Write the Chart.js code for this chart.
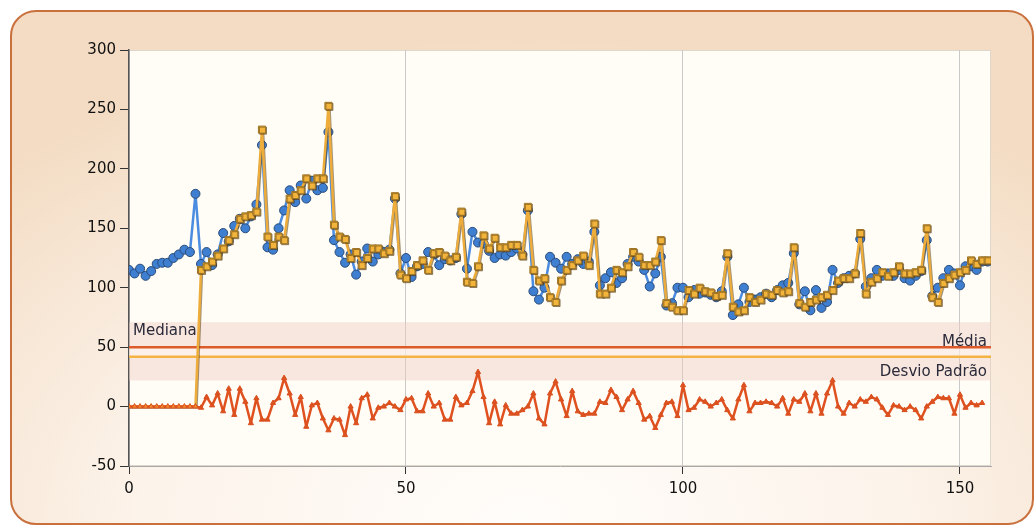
<!DOCTYPE html>
<html>
<head>
<meta charset="utf-8">
<script src="https://cdn.jsdelivr.net/npm/chart.js@4.4.1/dist/chart.umd.min.js"></script>
<style>
  html, body { margin: 0; padding: 0; background: #fff; }
  #wrap { position: relative; width: 1036px; height: 531px; overflow: hidden; }
  #frame {
    position: absolute; left: 10px; top: 10px; width: 1024px; height: 515px;
    box-sizing: border-box;
    border: 2px solid #c9703c; border-radius: 26px;
    background: radial-gradient(ellipse 75% 95% at 50% 100%, #fffdfa 0%, #fcf3ea 50%, #f3dcc3 100%);
  }
  #chart { position: absolute; left: 0; top: 0; }
</style>
</head>
<body>
<div id="wrap">
  <div id="frame"></div>
  <canvas id="chart" width="1036" height="531"></canvas>
</div>
<script>
// série observada (círculos azuis)
const observado = [
  115, 112, 116, 110, 114, 120, 121, 121, 125, 128, 132, 130, 179, 120, 130, 119,
  128, 146, 139, 152, 158, 150, 160, 170, 220, 134, 132, 150, 165, 182, 172, 186,
  175, 190, 182, 184, 231, 140, 130, 121, 128, 111, 122, 133, 122, 128, 130, 132,
  175, 112, 125, 109, 118, 120, 130, 128, 119, 124, 123, 125, 162, 116, 147, 138,
  137, 131, 125, 128, 127, 130, 133, 128, 165, 97, 90, 100, 126, 121, 116, 126,
  120, 124, 120, 122, 147, 102, 108, 113, 104, 108, 120, 126, 122, 115, 101, 112,
  126, 85, 87, 100, 100, 92, 98, 95, 96, 94, 92, 97, 126, 77, 86, 100,
  88, 90, 92, 95, 92, 98, 102, 104, 129, 86, 97, 81, 98, 83, 88, 115,
  104, 108, 110, 112, 141, 101, 108, 115, 110, 112, 110, 115, 108, 106, 110, 114,
  140, 93, 100, 108, 115, 112, 102, 118, 118, 115, 122, 122
];

// série prevista (quadrados laranja), zero antes do início da previsão
const previsto = [
  0, 0, 0, 0, 0, 0, 0, 0, 0, 0, 0, 0, 0, 115, 118, 122,
  127, 133, 140, 145, 158, 160, 161, 164, 233, 143, 136, 143, 140, 175, 178, 182,
  192, 186, 192, 192, 253, 153, 143, 141, 125, 130, 119, 125, 133, 133, 129, 131,
  177, 111, 108, 114, 119, 123, 115, 129, 130, 127, 123, 126, 164, 105, 104, 118,
  144, 133, 142, 134, 134, 136, 136, 127, 168, 115, 106, 108, 92, 88, 106, 115,
  119, 123, 127, 119, 154, 95, 95, 100, 115, 113, 118, 130, 126, 119, 119, 122,
  140, 87, 84, 81, 81, 98, 95, 100, 97, 96, 93, 94, 129, 84, 80, 81,
  92, 88, 90, 95, 94, 98, 96, 97, 134, 87, 84, 88, 90, 92, 94, 98,
  106, 108, 108, 112, 146, 95, 105, 108, 113, 110, 113, 118, 112, 112, 113, 115,
  150, 92, 88, 104, 108, 111, 113, 115, 123, 120, 123, 123
];

// resíduos (linha vermelha com triângulos)
const residuo = [
  0, 0, 0, 0, 0, 0, 0, 0, 0, 0, 0, 0, 0, -1, 8, 1,
  11, -4, 15, -7, 15, 4, -14, 7, -11, -11, 3, 7, 24, 11, -7, 8,
  -17, 1, 3, -10, -20, -10, -11, -24, 0, -14, 7, 10, -10, -1, 0, 3,
  0, -3, 6, 7, -4, -4, 11, 0, 3, -11, -11, 8, 1, 3, 13, 29,
  8, -14, 4, -15, 1, -6, -6, -3, 0, 11, -10, -15, 11, 21, 6, -8,
  13, -4, -7, -6, -6, 4, 3, 14, 8, -3, 6, 13, 3, -11, -8, -18,
  -7, 3, 4, -8, 18, -3, -1, 6, 4, 0, 3, 6, -3, -10, 6, 18,
  -4, 3, 3, 4, 3, 0, 7, -6, 6, 4, 11, -4, 11, -6, 11, 22,
  0, -6, 3, 0, 6, 4, 8, 6, -1, -7, 1, 0, -3, 0, -3, -10,
  0, 4, 8, 7, 7, -6, 10, -1, 3, 1, 3
];

// linhas de referência e faixa
const media = 50;
const mediana = 42;
const faixa = [22, 71];
const yTicks = [-50, 0, 50, 100, 150, 200, 250, 300];

const pts = arr => arr.map((v, i) => ({ x: i, y: v }));

// fundo da área de plotagem, faixa e linhas horizontais com rótulos
const referencias = {
  id: "referencias",
  beforeDatasetsDraw(chart) {
    const { ctx, chartArea: a, scales: { y } } = chart;
    ctx.save();
    const top = y.getPixelForValue(faixa[1]);
    const bot = y.getPixelForValue(faixa[0]);
    ctx.fillStyle = "rgba(240, 205, 192, 0.45)";
    ctx.fillRect(a.left, top, a.right - a.left, bot - top);

    const yMedia = y.getPixelForValue(media);
    const yMediana = y.getPixelForValue(mediana);
    ctx.fillStyle = "rgba(255, 250, 244, 0.55)";
    ctx.fillRect(a.left, yMedia, a.right - a.left, yMediana - yMedia);

    ctx.lineWidth = 2.5;
    ctx.strokeStyle = "#dd5a2a";
    ctx.beginPath(); ctx.moveTo(a.left, yMedia); ctx.lineTo(a.right, yMedia); ctx.stroke();
    ctx.strokeStyle = "#f4b445";
    ctx.beginPath(); ctx.moveTo(a.left, yMediana); ctx.lineTo(a.right, yMediana); ctx.stroke();

    ctx.font = "15px 'DejaVu Sans'";
    ctx.fillStyle = "#2a2a3a";
    ctx.textBaseline = "alphabetic";
    ctx.textAlign = "left";
    ctx.fillText("Mediana", a.left + 4, y.getPixelForValue(60));
    ctx.textAlign = "right";
    ctx.fillText("Média", a.right - 4, yMedia - 1);
    ctx.fillText("Desvio Padrão", a.right - 4, y.getPixelForValue(26));
    ctx.restore();
  },
  beforeDraw(chart) {
    const { ctx, chartArea: a } = chart;
    ctx.save();
    ctx.fillStyle = "#fffdf6";
    ctx.fillRect(a.left, a.top, a.right - a.left, a.bottom - a.top);
    ctx.strokeStyle = "rgba(200, 190, 175, 0.6)";
    ctx.lineWidth = 1;
    ctx.strokeRect(a.left + 0.5, a.top + 0.5, a.right - a.left - 1, a.bottom - a.top - 1);
    ctx.restore();
  },
  // contorno escuro deslocado sob a série prevista
  beforeDatasetDraw(chart, args) {
    if (args.index === 1) {
      const ctx = chart.ctx;
      ctx.save();
      ctx.shadowColor = "rgba(90, 60, 15, 0.55)";
      ctx.shadowBlur = 0;
      ctx.shadowOffsetX = 1;
      ctx.shadowOffsetY = 1;
    }
  },
  afterDatasetDraw(chart, args) {
    if (args.index === 1) chart.ctx.restore();
  }
};

new Chart(document.getElementById("chart"), {
  type: "line",
  data: {
    datasets: [
      {
        label: "Observado",
        data: pts(observado),
        borderColor: "#4b8ce0",
        borderWidth: 2.5,
        borderJoinStyle: "round",
        pointStyle: "circle",
        pointRadius: 4.5,
        pointBackgroundColor: "#3f7fd2",
        pointBorderColor: "#2b4c78",
        pointBorderWidth: 1,
        tension: 0,
        order: 3
      },
      {
        label: "Previsto",
        data: pts(previsto),
        borderColor: "#eeac3a",
        borderWidth: 2.5,
        borderJoinStyle: "round",
        pointStyle: "rect",
        pointRadius: ctx => (ctx.dataIndex < 13 ? 0 : 5),
        pointBackgroundColor: "#f3b43c",
        pointBorderColor: "#9c7426",
        pointBorderWidth: 1,
        tension: 0,
        order: 2
      },
      {
        label: "Resíduo",
        data: pts(residuo),
        borderColor: "#df5220",
        borderWidth: 2.5,
        borderJoinStyle: "round",
        pointStyle: "triangle",
        pointRadius: 3,
        pointBackgroundColor: ctx => (ctx.dataIndex < 13 ? "#f28c2c" : "#df5220"),
        pointBorderColor: "#d9501f",
        pointBorderWidth: 1,
        tension: 0,
        order: 1
      }
    ]
  },
  options: {
    responsive: false,
    animation: false,
    layout: { padding: { left: 0, top: 50, right: 45, bottom: 0 } },
    plugins: { legend: { display: false }, tooltip: { enabled: false } },
    scales: {
      x: {
        type: "linear",
        min: 0,
        max: 155.6,
        afterFit: s => { s.height = 65; },
        afterBuildTicks: s => { s.ticks = [0, 50, 100, 150].map(v => ({ value: v })); },
        ticks: {
          color: "#111",
          font: { family: "DejaVu Sans", size: 15 },
          padding: 6,
          maxRotation: 0
        },
        grid: {
          color: "#c9c9c9",
          tickColor: "#333",
          tickLength: 8,
          lineWidth: 1
        },
        border: { color: "#a9a9a9", width: 1 }
      },
      y: {
        min: -50,
        max: 300,
        afterFit: s => { s.width = 129; },
        afterBuildTicks: s => { s.ticks = yTicks.map(v => ({ value: v })); },
        ticks: {
          color: "#111",
          font: { family: "DejaVu Sans", size: 15 },
          padding: 4
        },
        grid: {
          drawOnChartArea: false,
          tickColor: "#333",
          tickLength: 9
        },
        border: { color: "#555", width: 1.5 }
      }
    }
  },
  plugins: [referencias]
});
</script>
</body>
</html>
